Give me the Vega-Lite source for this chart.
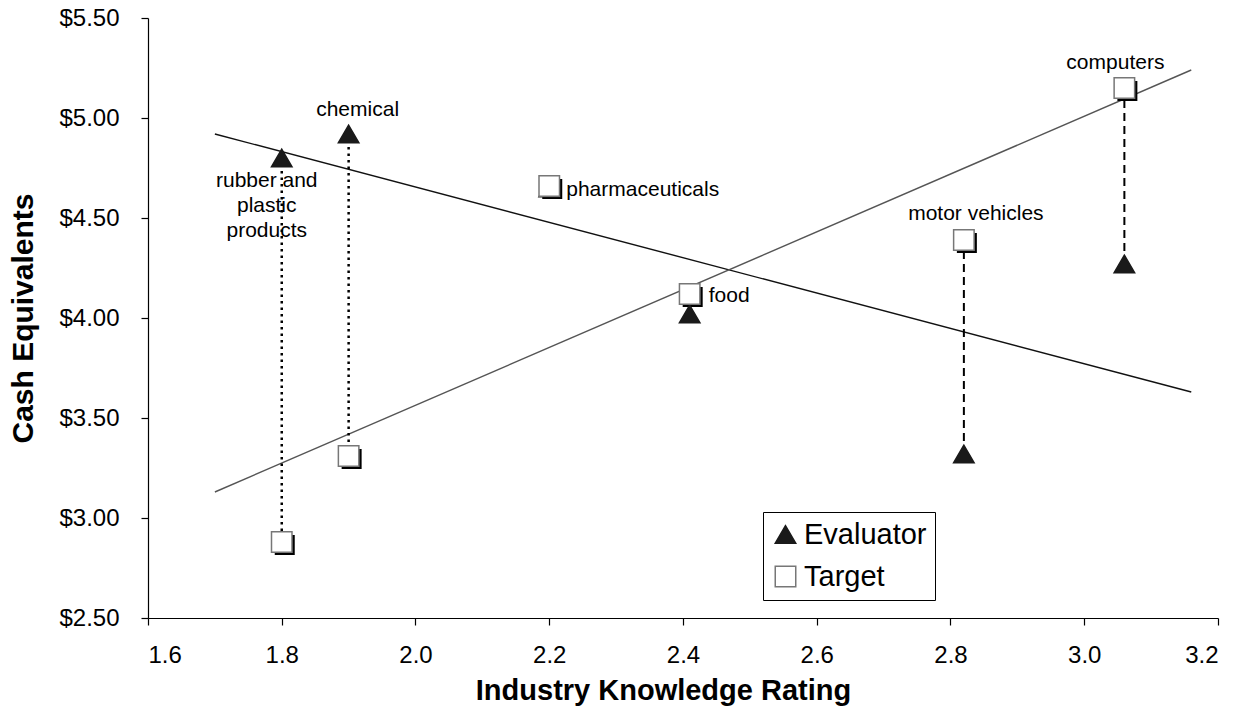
{
  "$schema": "https://vega.github.io/schema/vega-lite/v6.json",
  "width": 1070,
  "height": 600,
  "autosize": "none",
  "padding": {"left": 148, "top": 18, "right": 27, "bottom": 89},
  "background": "white",
  "config": {
    "font": "Liberation Sans",
    "view": {"stroke": null},
    "axis": {"grid": false, "domainColor": "#000", "domainWidth": 1.2, "tickColor": "#000", "tickWidth": 1.2, "tickSize": 7, "labelColor": "#000", "labelFont": "Liberation Sans", "labelFontSize": 24, "titleFont": "Liberation Sans", "titleFontWeight": "bold", "titleColor": "#000"},
    "legend": {"orient": "none", "legendX": 615, "legendY": 494, "strokeColor": "#000", "fillColor": "white", "padding": 8, "labelFontSize": 29, "labelFont": "Liberation Sans", "labelColor": "#000", "symbolSize": 420, "labelOffset": 4, "rowPadding": 12, "symbolStrokeWidth": 1.5}
  },
  "datasets": {
    "points": [
      {"industry": "rubber and plastic products", "rating": 1.80, "series": "Evaluator", "cash": 4.80},
      {"industry": "chemical", "rating": 1.90, "series": "Evaluator", "cash": 4.92},
      {"industry": "pharmaceuticals", "rating": 2.20, "series": "Evaluator", "cash": 4.65},
      {"industry": "food", "rating": 2.41, "series": "Evaluator", "cash": 4.02},
      {"industry": "motor vehicles", "rating": 2.82, "series": "Evaluator", "cash": 3.32},
      {"industry": "computers", "rating": 3.06, "series": "Evaluator", "cash": 4.27},
      {"industry": "rubber and plastic products", "rating": 1.80, "series": "Target", "cash": 2.88},
      {"industry": "chemical", "rating": 1.90, "series": "Target", "cash": 3.31},
      {"industry": "pharmaceuticals", "rating": 2.20, "series": "Target", "cash": 4.66},
      {"industry": "food", "rating": 2.41, "series": "Target", "cash": 4.12},
      {"industry": "motor vehicles", "rating": 2.82, "series": "Target", "cash": 4.39},
      {"industry": "computers", "rating": 3.06, "series": "Target", "cash": 5.15}
    ],
    "trends": [
      {"series": "Evaluator", "rating": 1.70, "cash": 4.92},
      {"series": "Evaluator", "rating": 3.16, "cash": 3.63},
      {"series": "Target", "rating": 1.70, "cash": 3.13},
      {"series": "Target", "rating": 3.16, "cash": 5.24}
    ]
  },
  "layer": [
    {
      "data": {"name": "trends"},
      "transform": [{"filter": "datum.series === 'Evaluator'"}],
      "mark": {"type": "line", "color": "#111", "strokeWidth": 1.4},
      "encoding": {
        "x": {"field": "rating", "type": "quantitative", "scale": {"domain": [1.6, 3.2], "nice": false, "zero": false}, "axis": {"values": [1.6, 1.8, 2.0, 2.2, 2.4, 2.6, 2.8, 3.0, 3.2], "format": ".1f", "labelPadding": 18, "titlePadding": 9, "titleFontSize": 29, "titleX": 515, "title": "Industry Knowledge Rating"}},
        "y": {"field": "cash", "type": "quantitative", "scale": {"domain": [2.5, 5.5], "nice": false, "zero": false}, "axis": {"values": [2.5, 3.0, 3.5, 4.0, 4.5, 5.0, 5.5], "format": "$.2f", "labelPadding": 22, "titlePadding": 20, "titleFontSize": 30, "title": "Cash Equivalents"}}
      }
    },
    {
      "data": {"name": "trends"},
      "transform": [{"filter": "datum.series === 'Target'"}],
      "mark": {"type": "line", "color": "#555", "strokeWidth": 1.4},
      "encoding": {
        "x": {"field": "rating", "type": "quantitative"},
        "y": {"field": "cash", "type": "quantitative"}
      }
    },
    {
      "data": {"name": "points"},
      "transform": [
        {"pivot": "series", "value": "cash", "groupby": ["industry", "rating"]},
        {"filter": {"field": "industry", "oneOf": ["rubber and plastic products", "chemical"]}}
      ],
      "mark": {"type": "rule", "color": "#000", "strokeWidth": 2.5, "strokeDash": [2.5, 4]},
      "encoding": {
        "x": {"field": "rating", "type": "quantitative"},
        "y": {"field": "Evaluator", "type": "quantitative"},
        "y2": {"field": "Target"}
      }
    },
    {
      "data": {"name": "points"},
      "transform": [
        {"pivot": "series", "value": "cash", "groupby": ["industry", "rating"]},
        {"filter": {"field": "industry", "oneOf": ["motor vehicles", "computers"]}}
      ],
      "mark": {"type": "rule", "color": "#000", "strokeWidth": 2, "strokeDash": [8, 5]},
      "encoding": {
        "x": {"field": "rating", "type": "quantitative"},
        "y": {"field": "Evaluator", "type": "quantitative"},
        "y2": {"field": "Target"}
      }
    },
    {
      "data": {"name": "points"},
      "transform": [{"filter": "datum.series === 'Target'"}],
      "mark": {"type": "point", "shape": "square", "filled": true, "color": "#000", "size": 400, "opacity": 1, "xOffset": 3, "yOffset": 3},
      "encoding": {
        "x": {"field": "rating", "type": "quantitative"},
        "y": {"field": "cash", "type": "quantitative"}
      }
    },
    {
      "data": {"name": "points"},
      "mark": {"type": "point", "filled": true, "opacity": 1, "strokeWidth": 1.5},
      "encoding": {
        "x": {"field": "rating", "type": "quantitative"},
        "y": {"field": "cash", "type": "quantitative"},
        "shape": {"field": "series", "type": "nominal", "scale": {"domain": ["Evaluator", "Target"], "range": ["triangle-up", "square"]}, "legend": {"title": null}},
        "fill": {"field": "series", "type": "nominal", "scale": {"domain": ["Evaluator", "Target"], "range": ["#1a1a1a", "#ffffff"]}, "legend": {"title": null}},
        "stroke": {"field": "series", "type": "nominal", "scale": {"domain": ["Evaluator", "Target"], "range": ["#1a1a1a", "#777777"]}, "legend": {"title": null}},
        "size": {"value": 420}
      }
    },
    {
      "data": {"name": "points"},
      "transform": [{"filter": "datum.series === 'Target' && datum.industry === 'computers'"}],
      "mark": {"type": "text", "fontSize": 21, "align": "center", "baseline": "middle", "dx": -9, "dy": -25, "color": "#000"},
      "encoding": {"x": {"field": "rating", "type": "quantitative"}, "y": {"field": "cash", "type": "quantitative"}, "text": {"field": "industry"}}
    },
    {
      "data": {"name": "points"},
      "transform": [{"filter": "datum.series === 'Target' && datum.industry === 'motor vehicles'"}],
      "mark": {"type": "text", "fontSize": 21, "align": "center", "baseline": "middle", "dx": 12, "dy": -26, "color": "#000"},
      "encoding": {"x": {"field": "rating", "type": "quantitative"}, "y": {"field": "cash", "type": "quantitative"}, "text": {"field": "industry"}}
    },
    {
      "data": {"name": "points"},
      "transform": [{"filter": "datum.series === 'Target' && (datum.industry === 'pharmaceuticals')"}],
      "mark": {"type": "text", "fontSize": 21, "align": "left", "baseline": "middle", "dx": 17, "dy": 4, "color": "#000"},
      "encoding": {"x": {"field": "rating", "type": "quantitative"}, "y": {"field": "cash", "type": "quantitative"}, "text": {"field": "industry"}}
    },
    {
      "data": {"name": "points"},
      "transform": [{"filter": "datum.series === 'Target' && (datum.industry === 'food')"}],
      "mark": {"type": "text", "fontSize": 21, "align": "left", "baseline": "middle", "dx": 19, "dy": 2, "color": "#000"},
      "encoding": {"x": {"field": "rating", "type": "quantitative"}, "y": {"field": "cash", "type": "quantitative"}, "text": {"field": "industry"}}
    },
    {
      "data": {"name": "points"},
      "transform": [{"filter": "datum.series === 'Evaluator' && datum.industry === 'chemical'"}],
      "mark": {"type": "text", "fontSize": 21, "align": "center", "baseline": "middle", "dx": 9, "dy": -24, "color": "#000"},
      "encoding": {"x": {"field": "rating", "type": "quantitative"}, "y": {"field": "cash", "type": "quantitative"}, "text": {"field": "industry"}}
    },
    {
      "data": {"name": "points"},
      "transform": [{"filter": "datum.series === 'Evaluator' && datum.industry === 'rubber and plastic products'"}],
      "mark": {"type": "text", "fontSize": 21, "align": "center", "baseline": "top", "dx": -15, "dy": 12, "lineHeight": 25, "color": "#000"},
      "encoding": {"x": {"field": "rating", "type": "quantitative"}, "y": {"field": "cash", "type": "quantitative"}, "text": {"value": ["rubber and", "plastic", "products"]}}
    }
  ]
}
